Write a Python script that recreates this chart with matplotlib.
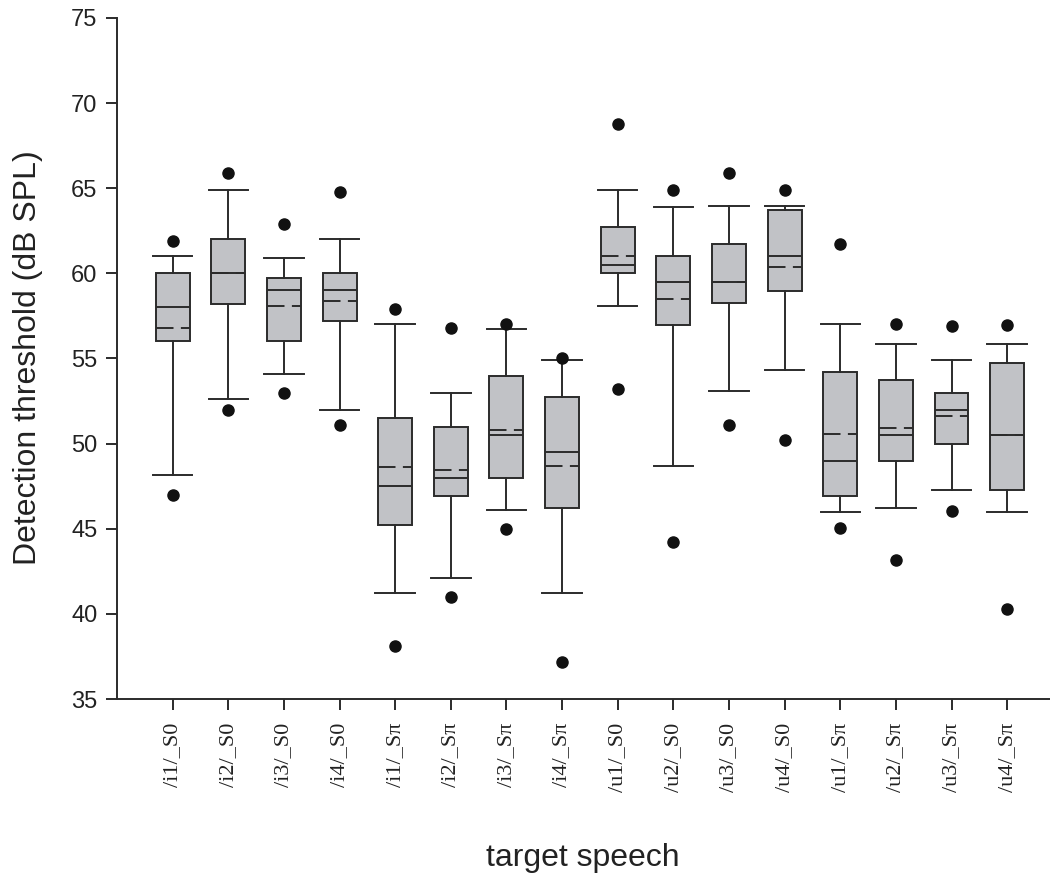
import matplotlib
matplotlib.use("Agg")
import matplotlib.pyplot as plt

labels = ["/i1/_S0", "/i2/_S0", "/i3/_S0", "/i4/_S0",
          "/i1/_S\u03c0", "/i2/_S\u03c0", "/i3/_S\u03c0", "/i4/_S\u03c0",
          "/u1/_S0", "/u2/_S0", "/u3/_S0", "/u4/_S0",
          "/u1/_S\u03c0", "/u2/_S\u03c0", "/u3/_S\u03c0", "/u4/_S\u03c0"]

whislo = [48.15, 52.6, 54.1, 52.0, 41.2, 42.1, 46.1, 41.2,
          58.1, 48.7, 53.1, 54.3, 45.97, 46.2, 47.28, 45.97]
q1 = [56.0, 58.2, 56.0, 57.2, 45.2, 46.9, 48.0, 46.24,
      60.0, 56.95, 58.24, 58.96, 46.94, 48.98, 50.0, 47.26]
med = [58.0, 60.0, 59.0, 59.0, 47.5, 48.0, 50.5, 49.5,
       60.5, 59.5, 59.5, 61.0, 48.98, 50.5, 51.97, 50.5]
mean = [56.8, 60.0, 58.1, 58.4, 48.6, 48.45, 50.8, 48.7,
        61.0, 58.5, 59.5, 60.4, 50.57, 50.9, 51.6, 50.5]
q3 = [60.0, 62.0, 59.7, 60.0, 51.5, 51.0, 54.0, 52.76,
      62.7, 61.0, 61.7, 63.7, 54.2, 53.72, 53.0, 54.72]
whishi = [61.0, 64.9, 60.9, 62.0, 57.0, 53.0, 56.75, 54.9,
          64.9, 63.9, 63.96, 63.96, 57.0, 55.87, 54.9, 55.87]
flier_hi = [61.9, 65.9, 62.9, 64.8, 57.9, 56.8, 57.0, 55.0,
            68.8, 64.9, 65.9, 64.9, 61.7, 57.0, 56.9, 56.95]
flier_lo = [47.0, 52.0, 53.0, 51.1, 38.1, 41.0, 45.0, 37.2,
            53.2, 44.2, 51.1, 50.2, 45.04, 43.15, 46.04, 40.29]

yticks = [35, 40, 45, 50, 55, 60, 65, 70, 75]

stats = []
for i in range(len(labels)):
    stats.append(dict(label=labels[i], whislo=whislo[i], q1=q1[i], med=med[i],
                      mean=mean[i], q3=q3[i], whishi=whishi[i],
                      fliers=[flier_hi[i], flier_lo[i]]))

lc = "#2b2b2b"
fig = plt.figure(figsize=(10.5, 8.8), dpi=100)
ax = fig.add_axes([117/1050, 1 - 699/880, 1 - 117/1050, (699 - 18)/880])

lw = 1.4
ax.bxp(stats, positions=range(1, len(labels) + 1), widths=0.61, capwidths=0.71,
       patch_artist=True, showmeans=True, meanline=True, showfliers=True,
       boxprops=dict(facecolor="#c1c2c6", edgecolor=lc, linewidth=lw),
       whiskerprops=dict(color=lc, linewidth=lw),
       capprops=dict(color=lc, linewidth=lw),
       medianprops=dict(color=lc, linewidth=lw),
       meanprops=dict(color=lc, linewidth=lw, linestyle=(0, (9, 3.8))),
       flierprops=dict(marker="o", markerfacecolor="#111111", markeredgecolor="#111111",
                       markersize=8, linestyle="none"))

ax.set_xlim(0, 16.77)
ax.set_ylim(35, 75)
ax.set_yticks(yticks)
ax.set_yticklabels([str(v) for v in yticks], fontsize=17, family="Liberation Sans",
                   color="#222222")
ax.set_xticks(range(1, len(labels) + 1))
ax.set_xticklabels(labels, rotation=90, fontsize=16, family="Liberation Serif",
                   color="#222222")
ax.tick_params(axis="both", direction="out", length=8, width=1.4, color=lc)
ax.tick_params(axis="y", pad=6)
ax.tick_params(axis="x", pad=9)

for s in ["top", "right"]:
    ax.spines[s].set_visible(False)
for s in ["left", "bottom"]:
    ax.spines[s].set_color(lc)
    ax.spines[s].set_linewidth(1.4)

fig.text(28/1050, 1 - 358/880, "Detection threshold (dB SPL)", rotation=90,
         fontsize=23, family="Liberation Sans", color="#222222",
         ha="center", va="center")
fig.text(583/1050, 1 - 858/880, "target speech", fontsize=23,
         family="Liberation Sans", color="#222222", ha="center", va="center")

fig.savefig("out.png", dpi=100)
